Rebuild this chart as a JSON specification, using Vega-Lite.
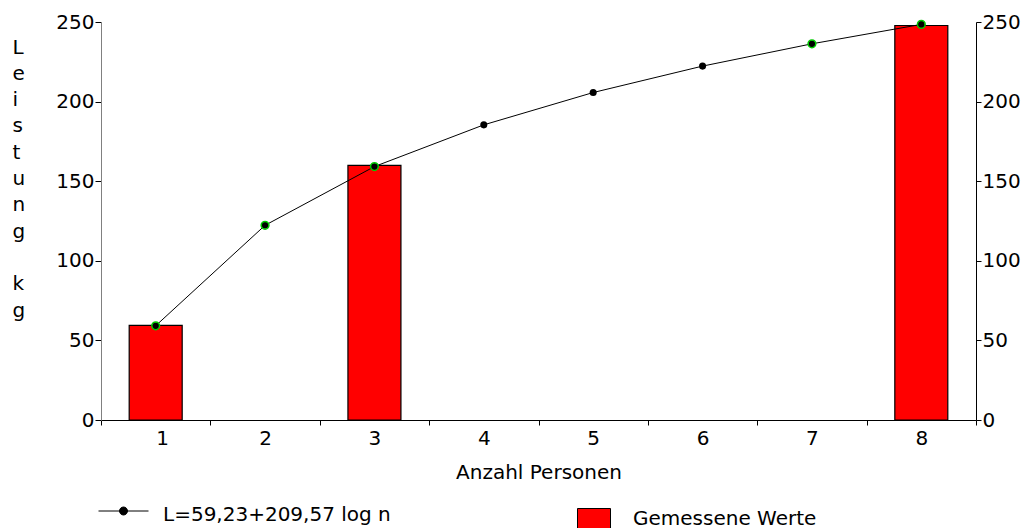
{
  "$schema": "https://vega.github.io/schema/vega-lite/v6.json",
  "width": 875,
  "height": 398,
  "autosize": "none",
  "padding": {"left": 101, "top": 22, "right": 51, "bottom": 108},
  "background": "white",
  "config": {
    "view": {"stroke": null},
    "font": "DejaVu Sans",
    "axis": {"labelFont": "DejaVu Sans", "titleFont": "DejaVu Sans", "labelColor": "black", "titleColor": "black", "titleFontWeight": "normal", "grid": false, "domainColor": "black", "tickColor": "black"},
    "legend": {"labelFont": "DejaVu Sans", "labelColor": "black", "padding": 0, "labelLimit": 0}
  },
  "datasets": {
    "measured": [
      {"n": 1, "leistung": 59.5},
      {"n": 3, "leistung": 160},
      {"n": 8, "leistung": 247.8}
    ],
    "fit": [
      {"n": 1, "L": 59.2},
      {"n": 2, "L": 122.3},
      {"n": 3, "L": 159.2},
      {"n": 4, "L": 185.4},
      {"n": 5, "L": 205.7},
      {"n": 6, "L": 222.3},
      {"n": 7, "L": 236.3},
      {"n": 8, "L": 248.5}
    ]
  },
  "layer": [
    {
      "data": {"name": "measured"},
      "mark": {"type": "bar", "width": 53, "stroke": "black", "strokeWidth": 1.2},
      "encoding": {
        "x": {
          "field": "n", "type": "quantitative",
          "scale": {"domain": [0.5, 8.5], "nice": false, "zero": false, "padding": 0},
          "axis": {
            "values": [0.5, 1.5, 2.5, 3.5, 4.5, 5.5, 6.5, 7.5, 8.5],
            "labelExpr": "datum.value < 8 ? format(datum.value + 0.5, 'd') : ''",
            "labelOffset": 54.7,
            "labelFontSize": 20,
            "labelPadding": 3,
            "tickSize": 5,
            "title": "Anzahl Personen",
            "titleFontSize": 20,
            "titlePadding": 14
          }
        },
        "y": {
          "field": "leistung", "type": "quantitative",
          "scale": {"domain": [0, 250], "nice": false},
          "axis": {
            "values": [0, 50, 100, 150, 200, 250],
            "labelFontSize": 20,
            "labelPadding": 1,
            "tickSize": 6,
            "domainColor": "#808080",
            "title": ["L", "e", "i", "s", "t", "u", "n", "g", "\u200b", "\u00a0k", "g"],
            "titleAngle": 0,
            "titleFontSize": 20,
            "titleLineHeight": 26.3,
            "titleAlign": "left",
            "titleBaseline": "top",
            "titleX": -89,
            "titleY": 15
          }
        },
        "fill": {
          "datum": "Gemessene Werte",
          "scale": {"range": ["#ff0000"]},
          "legend": {
            "orient": "none",
            "legendX": 476,
            "legendY": 486,
            "symbolType": "square",
            "symbolSize": 1089,
            "symbolStrokeColor": "black",
            "symbolStrokeWidth": 1,
            "labelFontSize": 20,
            "labelOffset": 22,
            "labelBaseline": "alphabetic",
            "title": null
          }
        }
      }
    },
    {
      "data": {"name": "fit"},
      "mark": {"type": "line", "strokeWidth": 1},
      "encoding": {
        "x": {"field": "n", "type": "quantitative"},
        "y": {"field": "L", "type": "quantitative", "axis": {"orient": "right", "values": [0, 50, 100, 150, 200, 250], "labelFontSize": 20, "labelPadding": 1, "tickSize": 5, "title": null}},
        "stroke": {
          "datum": "L=59,23+209,57 log n",
          "scale": {"range": ["black"]},
          "legend": {
            "orient": "none",
            "legendX": -3,
            "legendY": 467,
            "symbolType": "M-1,-0.14H1M-0.16,-0.14A0.16,0.16,0,1,1,0.16,-0.14A0.16,0.16,0,1,1,-0.16,-0.14Z",
            "symbolSize": 2500,
            "symbolStrokeWidth": 1,
            "symbolFillColor": "black",
            "symbolStrokeColor": "black",
            "labelFontSize": 20,
            "labelOffset": 14,
            "title": null
          }
        }
      }
    },
    {
      "data": {"name": "fit"},
      "mark": {"type": "point", "filled": true, "fill": "black", "size": 50, "strokeWidth": 0, "opacity": 1},
      "encoding": {
        "x": {"field": "n", "type": "quantitative"},
        "y": {"field": "L", "type": "quantitative", "axis": null}
      }
    },
    {
      "data": {"name": "fit"},
      "transform": [{"filter": {"field": "n", "oneOf": [1, 2, 3, 7, 8]}}],
      "mark": {"type": "point", "filled": false, "stroke": "#00cc00", "size": 60, "strokeWidth": 1.5, "opacity": 1},
      "encoding": {
        "x": {"field": "n", "type": "quantitative"},
        "y": {"field": "L", "type": "quantitative", "axis": null}
      }
    }
  ],
  "resolve": {"axis": {"y": "independent"}}
}
